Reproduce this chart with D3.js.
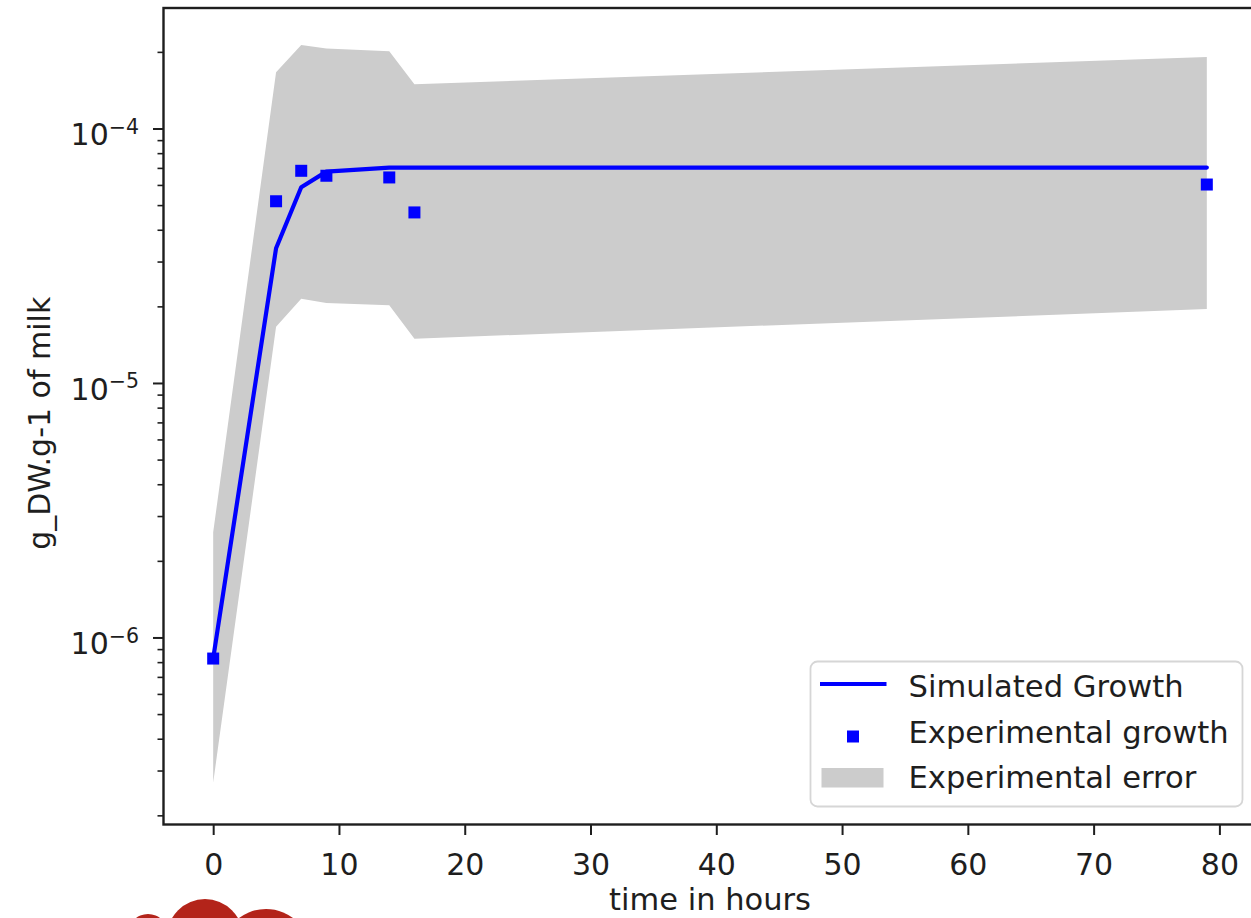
<!DOCTYPE html>
<html>
<head>
<meta charset="utf-8">
<script src="https://cdn.jsdelivr.net/npm/d3@7"></script>
<style>
  html, body { margin: 0; padding: 0; background: #fff; }
  svg { display: block; }
  text { font-family: "DejaVu Sans", sans-serif; fill: #1e1e1e; }
</style>
</head>
<body>
<svg id="chart" width="1251" height="918"></svg>
<script>
// Sampling times (hours)
const hours = [0, 5, 7, 9, 14, 16, 79];
// Simulated biomass (g_DW per g of milk)
const simulated = [8.3e-7, 3.4e-5, 5.9e-5, 6.8e-5, 7.05e-5, 7.05e-5, 7.05e-5];
// Measured biomass
const experimental = [8.3e-7, 5.2e-5, 6.85e-5, 6.55e-5, 6.45e-5, 4.7e-5, 6.05e-5];
// Experimental error envelope
const errorUpper = [2.6e-6, 1.67e-4, 2.14e-4, 2.07e-4, 2.02e-4, 1.5e-4, 1.92e-4];
const errorLower = [2.7e-7, 1.67e-5, 2.15e-5, 2.07e-5, 2.03e-5, 1.5e-5, 1.96e-5];
// Axis ticks
const xTicks = [0, 10, 20, 30, 40, 50, 60, 70, 80];
const yMajorExponents = [-6, -5, -4];
const legendLabels = ["Simulated Growth", "Experimental growth", "Experimental error"];

const svg = d3.select("#chart");
const FS = 30;
const plot = { left: 163.5, right: 1256.5, top: 8, bottom: 824.5 };

const x = d3.scaleLinear().domain([-3.95, 82.95]).range([plot.left, plot.right]);
const y = d3.scaleLog().domain([Math.pow(10, -6.733), Math.pow(10, -3.5246)]).range([plot.bottom, plot.top]);

const rows = hours.map((h, i) => ({
  h, sim: simulated[i], exp: experimental[i], hi: errorUpper[i], lo: errorLower[i]
}));

// error band
svg.append("path")
  .datum(rows)
  .attr("fill", "#cccccc")
  .attr("d", d3.area().x(d => x(d.h)).y0(d => y(d.lo)).y1(d => y(d.hi)));

// simulated growth curve
svg.append("path")
  .datum(rows)
  .attr("fill", "none")
  .attr("stroke", "#0000ff")
  .attr("stroke-width", 4.2)
  .attr("stroke-linejoin", "round")
  .attr("stroke-linecap", "round")
  .attr("d", d3.line().x(d => x(d.h)).y(d => y(d.sim)));

// experimental points
const ms = 12;
svg.append("g").selectAll("rect")
  .data(rows)
  .join("rect")
  .attr("x", d => x(d.h) - ms / 2)
  .attr("y", d => y(d.exp) - ms / 2)
  .attr("width", ms)
  .attr("height", ms)
  .attr("fill", "#0000ff");

// x axis
const xAxis = d3.axisBottom(x).tickValues(xTicks).tickSize(10.5).tickPadding(8).tickFormat(d3.format("d"));
const gx = svg.append("g").attr("transform", `translate(0,${plot.bottom})`).call(xAxis);
gx.select(".domain").remove();
gx.selectAll(".tick line").attr("stroke", "#1e1e1e").attr("stroke-width", 2);
gx.selectAll(".tick text")
  .attr("font-size", FS)
  .attr("dy", null)
  .attr("y", 50.5)
  .style("fill", "#1e1e1e");

// y axis: major and minor log ticks
const [d0, d1] = y.domain();
const minor = [];
for (let e = -7; e <= -3; e++) {
  for (let m = 2; m <= 9; m++) {
    const v = m * Math.pow(10, e);
    if (v >= d0 && v <= d1) minor.push(v);
  }
}
const gy = svg.append("g");
gy.selectAll("line.minor")
  .data(minor)
  .join("line")
  .attr("class", "minor")
  .attr("x1", plot.left - 6).attr("x2", plot.left)
  .attr("y1", d => y(d)).attr("y2", d => y(d))
  .attr("stroke", "#1e1e1e").attr("stroke-width", 1.6);
gy.selectAll("line.major")
  .data(yMajorExponents)
  .join("line")
  .attr("class", "major")
  .attr("x1", plot.left - 10.5).attr("x2", plot.left)
  .attr("y1", d => y(Math.pow(10, d))).attr("y2", d => y(Math.pow(10, d)))
  .attr("stroke", "#1e1e1e").attr("stroke-width", 2);
const yl = gy.selectAll("text.ylab")
  .data(yMajorExponents)
  .join("text")
  .attr("class", "ylab")
  .attr("text-anchor", "end")
  .attr("x", 139)
  .attr("y", d => y(Math.pow(10, d)) + 16.5)
  .attr("font-size", FS);
yl.append("tspan").text("10");
yl.append("tspan")
  .attr("dy", -11.5)
  .attr("font-size", 20.5)
  .text(d => "\u2212" + Math.abs(d));

// spines
svg.append("rect")
  .attr("x", plot.left).attr("y", plot.top)
  .attr("width", plot.right - plot.left).attr("height", plot.bottom - plot.top)
  .attr("fill", "none").attr("stroke", "#1e1e1e").attr("stroke-width", 2.4);

// axis titles
svg.append("text")
  .attr("x", (plot.left + plot.right) / 2)
  .attr("y", 910)
  .attr("text-anchor", "middle")
  .attr("font-size", 30.5)
  .text("time in hours");
svg.append("text")
  .attr("transform", `translate(50,${(plot.top + plot.bottom) / 2 + 7}) rotate(-90)`)
  .attr("text-anchor", "middle")
  .attr("font-size", FS)
  .text("g_DW.g-1 of milk");

// legend
const lg = svg.append("g");
lg.append("rect")
  .attr("x", 810.5).attr("y", 661.5)
  .attr("width", 432).attr("height", 145)
  .attr("rx", 7)
  .attr("fill", "rgba(255,255,255,0.8)")
  .attr("stroke", "#d6d6d6").attr("stroke-width", 1.8);
const rowBase = [697, 742.5, 788];
lg.append("line")
  .attr("x1", 820).attr("x2", 886.5)
  .attr("y1", 684).attr("y2", 684)
  .attr("stroke", "#0000ff").attr("stroke-width", 4.2);
lg.append("rect")
  .attr("x", 853 - ms / 2).attr("y", 736.5 - ms / 2)
  .attr("width", ms).attr("height", ms)
  .attr("fill", "#0000ff");
lg.append("rect")
  .attr("x", 821.5).attr("y", 768)
  .attr("width", 62).attr("height", 19.5)
  .attr("fill", "#cccccc");
lg.selectAll("text.leg")
  .data(legendLabels)
  .join("text")
  .attr("class", "leg")
  .attr("x", 908.5)
  .attr("y", (d, i) => rowBase[i])
  .attr("font-size", 30.6)
  .text(d => d);

// red emblem peeking in at the lower edge
const emblem = svg.append("g").attr("fill", "#b3241a");
emblem.append("circle").attr("cx", 205).attr("cy", 937).attr("r", 38);
emblem.append("circle").attr("cx", 266).attr("cy", 954).attr("r", 45);
emblem.append("circle").attr("cx", 148).attr("cy", 934).attr("r", 20);
</script>
</body>
</html>
